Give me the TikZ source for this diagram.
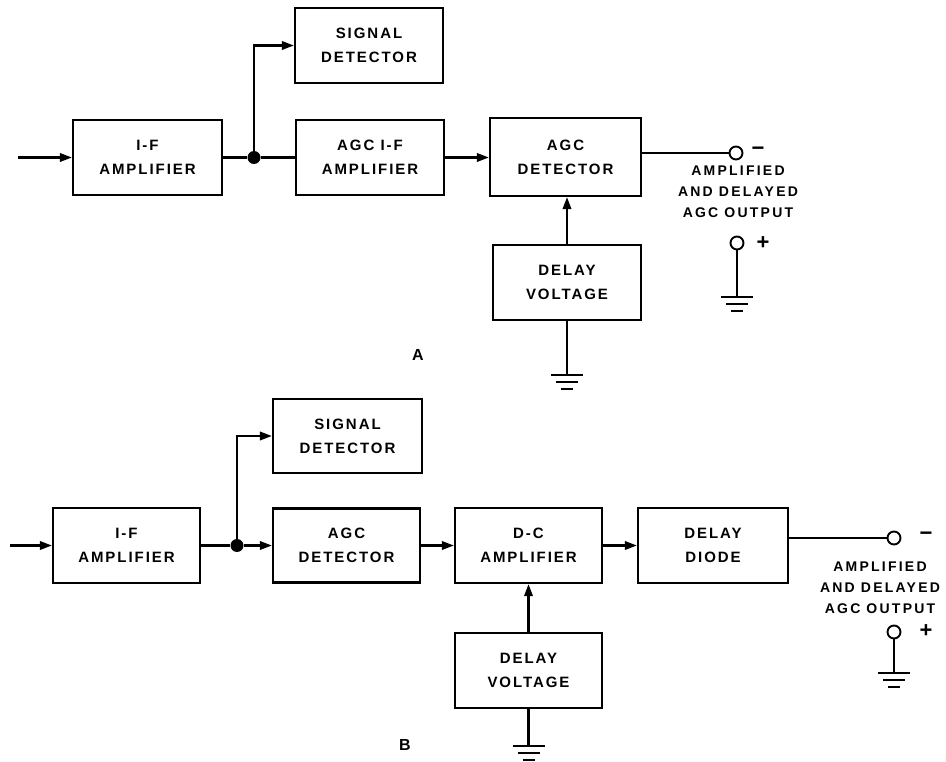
\documentclass[tikz,border=0pt]{standalone}
\usepackage{fontspec}
\setmainfont{Liberation Sans}
\newfontfamily\lblfont{Liberation Sans}[LetterSpace=13]
\newfontfamily\outfont{Liberation Sans}[LetterSpace=16]
\usetikzlibrary{arrows.meta,calc}
\tikzset{
  box/.style={draw,line width=2.3pt,inner sep=0pt,align=center,
    font=\lblfont\bfseries\fontsize{15}{24}\selectfont},
  wire/.style={line width=2.1pt},
  arr/.style={wire,-{Triangle[length=12pt,width=8.5pt]}},
  term/.style={circle,draw,line width=1.9pt,minimum size=13pt,inner sep=0pt},
  jdot/.style={circle,fill,minimum size=13pt,inner sep=0pt},
  lbl/.style={align=center,inner sep=0pt,font=\outfont\bfseries\fontsize{14}{21}\selectfont},
  sgn/.style={inner sep=0pt,font=\bfseries\fontsize{22}{22}\selectfont},
  gnd/.pic={\draw[wire] (-16,0)--(16,0) (-11,7)--(11,7) (-6,14)--(6,14);}
}
\begin{document}
\begin{tikzpicture}[x=1pt,y=-1pt]
\useasboundingbox (0,0) rectangle (946,762);
% ---------------- A ----------------
\node[box,minimum width=149pt,minimum height=75pt] (ifA) at (147.5,157.5) {I-F\\AMPLIFIER};
\node[box,minimum width=148pt,minimum height=75pt] (sdA) at (369,45.5) {SIGNAL\\DETECTOR};
\node[box,minimum width=148pt,minimum height=75pt] (agcifA) at (370,157.5) {AGC I-F\\AMPLIFIER};
\node[box,minimum width=151pt,minimum height=78pt] (agcdetA) at (565.5,157) {AGC\\DETECTOR};
\node[box,minimum width=148pt,minimum height=75pt] (dvA) at (567,282.5) {DELAY\\VOLTAGE};
\node[jdot] (jA) at (254,157.5) {};
\coordinate (inA) at (18,157.5);
\draw[arr] (inA) -- (ifA);
\draw[wire] (ifA) -- (jA) -- (agcifA);
\draw[arr] (jA) |- (sdA.west);
\draw[arr] (agcifA.east) -- (agcdetA.west |- agcifA.east);
\draw[arr] (dvA.north) -- (dvA.north |- agcdetA.south);
\node[term] (tmA) at (736,153) {};
\draw[wire] (agcdetA.east |- tmA) -- (tmA);
\node[sgn] (mA) at (758,151) {\textminus};
\node[lbl] (outA) at (738,192) {AMPLIFIED\\AND DELAYED\\AGC OUTPUT};
\node[term] (tpA) at (737,243) {};
\node[sgn] (pA) at (763,243) {+};
\coordinate (gtA) at (737,297);
\draw[wire] (tpA) -- (gtA);
\pic at (gtA) {gnd};
\coordinate (gdA) at (567,375);
\draw[wire] (dvA.south) -- (gdA);
\pic at (gdA) {gnd};
\node[lbl,font=\lblfont\bfseries\fontsize{16}{16}\selectfont] (labA) at (418,355) {A};
% ---------------- B ----------------
\node[box,minimum width=147pt,minimum height=75pt] (ifB) at (126.5,545.5) {I-F\\AMPLIFIER};
\node[box,minimum width=149pt,minimum height=74pt] (sdB) at (347.5,436) {SIGNAL\\DETECTOR};
\node[box,minimum width=147pt,minimum height=74pt] (agcdetB) at (346.5,545.5) {AGC\\DETECTOR};
\node[box,minimum width=147pt,minimum height=75pt] (dcB) at (528.5,545.5) {D-C\\AMPLIFIER};
\node[box,minimum width=150pt,minimum height=75pt] (ddB) at (713,545.5) {DELAY\\DIODE};
\node[box,minimum width=147pt,minimum height=75pt] (dvB) at (528.5,670.5) {DELAY\\VOLTAGE};
\node[jdot] (jB) at (237,545.5) {};
\coordinate (inB) at (10,545.5);
\draw[arr] (inB) -- (ifB);
\draw[wire] (ifB) -- (jB);
\draw[arr] (jB) -- (agcdetB);
\draw[arr] (jB) |- (sdB.west);
\draw[arr] (agcdetB) -- (dcB);
\draw[arr] (dcB) -- (ddB);
\draw[arr] (dvB.north) -- (dvB.north |- dcB.south);
\node[term] (tmB) at (894,538) {};
\draw[wire] (ddB.east |- tmB) -- (tmB);
\node[sgn] (mB) at (926,536) {\textminus};
\node[lbl] (outB) at (880,588) {AMPLIFIED\\AND DELAYED\\AGC OUTPUT};
\node[term] (tpB) at (894,632) {};
\node[sgn] (pB) at (926,631) {+};
\coordinate (gtB) at (894,673);
\draw[wire] (tpB) -- (gtB);
\pic at (gtB) {gnd};
\coordinate (gdB) at (528.5,746);
\draw[wire] (dvB.south) -- (gdB);
\pic at (gdB) {gnd};
\node[lbl,font=\lblfont\bfseries\fontsize{16}{16}\selectfont] (labB) at (405,745) {B};
\end{tikzpicture}
\end{document}
